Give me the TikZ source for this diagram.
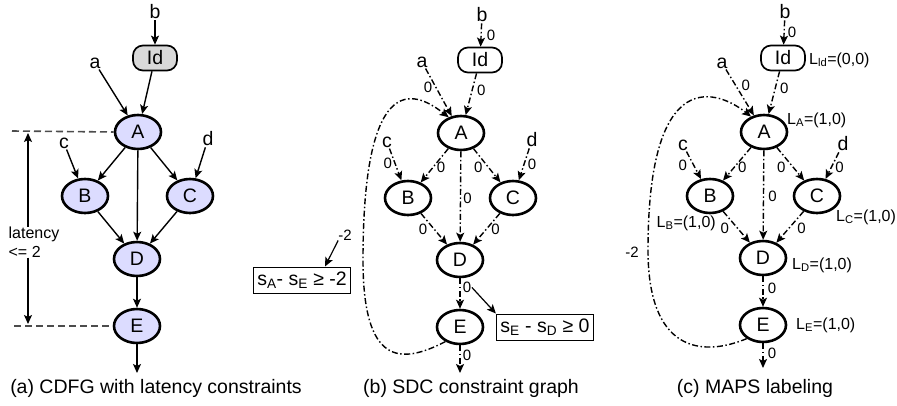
\documentclass[tikz,border=0pt]{standalone}
\usepackage{fontspec}
\setmainfont{Liberation Sans}
\usepackage{tikz}
\usetikzlibrary{positioning,shapes.geometric,arrows.meta}

\definecolor{opblue}{RGB}{220,220,255}
\definecolor{ldgray}{RGB}{217,217,217}
\newcommand{\bigtxt}{\fontsize{19.5}{21.5}\selectfont}
\newcommand{\midtxt}{\fontsize{16}{18}\selectfont}
\newcommand{\wtxt}{\fontsize{15}{17}\selectfont}
\newcommand{\sbs}[1]{\textsubscript{#1}}

\begin{document}
\begin{tikzpicture}[
            x=1pt, y=-1pt,
            op/.style={ellipse, draw=black, line width=2.6pt, minimum width=46pt, minimum height=34pt, inner sep=0pt, font=\bigtxt},
            opa/.style={op, fill=opblue},
            ldbox/.style={rectangle, rounded corners=10pt, draw=black, line width=1.7pt, minimum width=44pt, minimum height=25pt, inner sep=0pt, font=\bigtxt},
            var/.style={inner sep=1pt, font=\bigtxt},
            wt/.style={inner sep=0pt, font=\wtxt},
            lab/.style={inner sep=0pt, font=\midtxt},
            cons/.style={rectangle, draw=black, line width=1pt, inner sep=4pt, minimum height=26pt, font=\bigtxt},
            dep/.style={-{Stealth[length=9pt, width=8pt, inset=2pt]}, line width=1.4pt},
            sdc/.style={dep, dash pattern=on 6pt off 2.5pt on 1.5pt off 2.5pt},
            bound/.style={line width=1.6pt, draw=black!70, dash pattern=on 7pt off 4pt},
            captxt/.style={font=\bigtxt}
        ]
        \useasboundingbox (0,0) rectangle (897,405);

        %(a) CDFG
        \node[ldbox, fill=ldgray] (Id1) at (155,58)  {Id};
        \node[opa]                (A1)  at (138,132) {A};
        \node[opa]                (B1)  at (85,196)  {B};
        \node[opa]                (C1)  at (190,196) {C};
        \node[opa]                (D1)  at (137,259) {D};
        \node[opa]                (E1)  at (137,326) {E};
        \node[var] (b1) at (155,12)  {b};
        \node[var] (a1) at (95,63)   {a};
        \node[var] (c1) at (64,143)  {c};
        \node[var] (d1) at (208,139) {d};
        \coordinate (out1) at (137,373);

        \draw[dep] (b1) -- (Id1);
        \draw[dep] (a1) -- (A1);
        \draw[dep] (Id1) -- (A1);
        \draw[dep] (c1) -- (B1);
        \draw[dep] (A1) -- (B1);
        \draw[dep] (A1) -- (C1);
        \draw[dep] (d1) -- (C1);
        \draw[dep] (A1) -- (D1);
        \draw[dep] (B1) -- (D1);
        \draw[dep] (C1) -- (D1);
        \draw[dep] (D1) -- (E1);
        \draw[dep] (E1) -- (out1);

        %latency bound
        \coordinate (topL) at (12,131);
        \coordinate (botL) at (14,326);
        \draw[bound] (topL) -- (A1.west);
        \draw[bound] (botL) -- (E1.west);
        \node[lab, align=left] (lat) at (34,242) {latency\\[1pt]<= 2};
        \draw[dep, line width=1.2pt] (lat.north -| 28,0) -- (28,133);
        \draw[dep, line width=1.2pt] (lat.south -| 28,0) -- (28,324);

        \node[captxt] (capa) at (156,388) {(a) CDFG with latency constraints};

        %(b) SDC graph
        \node[ldbox] (Id2) at (480,60)  {Id};
        \node[op]    (A2)  at (461,133) {A};
        \node[op]    (B2)  at (408,198) {B};
        \node[op]    (C2)  at (513,198) {C};
        \node[op]    (D2)  at (460,260) {D};
        \node[op]    (E2)  at (460,327) {E};
        \node[var] (b2) at (482,15)  {b};
        \node[var] (a2) at (422,62)  {a};
        \node[var] (c2) at (387,142) {c};
        \node[var] (d2) at (532,140) {d};
        \coordinate (out2) at (460,373);

        \draw[sdc] (b2) -- (Id2)  node[wt, pos=.5, xshift=10pt] {0};
        \draw[sdc] (a2) -- (A2)   node[wt, pos=.4, xshift=-8pt] {0};
        \draw[sdc] (Id2) -- (A2)  node[wt, pos=.4, xshift=9pt] {0};
        \draw[sdc] (c2) -- (B2)   node[wt, pos=.45, xshift=-7pt] {0};
        \draw[sdc] (A2) -- (B2)   node[wt, pos=.55, xshift=8pt] {0};
        \draw[sdc] (A2) -- (C2)   node[wt, pos=.55, xshift=-10pt] {0};
        \draw[sdc] (d2) -- (C2)   node[wt, pos=.5, xshift=8pt] {0};
        \draw[sdc] (A2) -- (D2)   node[wt, pos=.52, xshift=7pt] {0};
        \draw[sdc] (B2) -- (D2)   node[wt, pos=.5, xshift=-11pt] {0};
        \draw[sdc] (C2) -- (D2)   node[wt, pos=.5, xshift=9pt] {0};
        \draw[sdc] (D2) -- (E2)   node[wt, pos=.3, xshift=7pt] (wDE) {0};
        \draw[sdc] (E2) -- (out2) node[wt, pos=.35, xshift=7pt] {0};
        \draw[sdc] (E2.225) .. controls (400,365) and (363,365) .. (363,260)
            .. controls (363,60) and (420,95) .. (A2.128);

        \node[wt] (m2) at (345,235) {-2};
        \node[cons] (consA) at (302,280) {s\sbs{A}- s\sbs{E} ≥ -2};
        \node[cons] (consE) at (545,327) {s\sbs{E} - s\sbs{D} ≥ 0};
        \draw[dep, line width=1.2pt] (m2.south west) -- (consA.north -| 325,0);
        \draw[dep, line width=1.2pt] (wDE.east) -- (consE.north west);

        \node[captxt] (capb) at (471,388) {(b) SDC constraint graph};

        %(c) MAPS labeling
        \node[ldbox] (Id3) at (783,58)  {Id};
        \node[op]    (A3)  at (764,132) {A};
        \node[op]    (B3)  at (710,196) {B};
        \node[op]    (C3)  at (817,196) {C};
        \node[op]    (D3)  at (763,258) {D};
        \node[op]    (E3)  at (763,325) {E};
        \node[var] (b3) at (785,12)  {b};
        \node[var] (a3) at (722,63)  {a};
        \node[var] (c3) at (683,145) {c};
        \node[var] (d3) at (843,144) {d};
        \coordinate (out3) at (763,368);

        \draw[sdc] (b3) -- (Id3)  node[wt, pos=.5, xshift=8pt] {0};
        \draw[sdc] (a3) -- (A3)   node[wt, pos=.35, xshift=10pt] {0};
        \draw[sdc] (Id3) -- (A3)  node[wt, pos=.4, xshift=9pt] {0};
        \draw[sdc] (c3) -- (B3)   node[wt, pos=.5, xshift=-11pt] {0};
        \draw[sdc] (A3) -- (B3)   node[wt, pos=.6, xshift=8pt] {0};
        \draw[sdc] (A3) -- (C3)   node[wt, pos=.6, xshift=-12pt] {0};
        \draw[sdc] (d3) -- (C3)   node[wt, pos=.55, xshift=8pt] {0};
        \draw[sdc] (A3) -- (D3)   node[wt, pos=.52, xshift=9pt] {0};
        \draw[sdc] (B3) -- (D3)   node[wt, pos=.55, xshift=-13pt] {0};
        \draw[sdc] (C3) -- (D3)   node[wt, pos=.55, xshift=13pt] {0};
        \draw[sdc] (D3) -- (E3)   node[wt, pos=.4, xshift=9pt] {0};
        \draw[sdc] (E3) -- (out3) node[wt, pos=.4, xshift=9pt] {0};
        \draw[sdc] (E3.220) .. controls (700,358) and (648,350) .. (648,250)
            .. controls (648,60) and (720,92) .. (A3.130);
        \node[wt] (m3) at (632,252) {-2};

        \node[lab, anchor=west] (LId) at (809,60)  {L\sbs{ld}=(0,0)};
        \node[lab, anchor=west] (LA)  at (787,120) {L\sbs{A}=(1,0)};
        \node[lab, anchor=east] (LB)  at (716,223) {L\sbs{B}=(1,0)};
        \node[lab, anchor=west] (LC)  at (836,217) {L\sbs{C}=(1,0)};
        \node[lab, anchor=west] (LD)  at (792,265) {L\sbs{D}=(1,0)};
        \node[lab, anchor=west] (LE)  at (796,325) {L\sbs{E}=(1,0)};

        \node[captxt] (capc) at (755,388) {(c) MAPS labeling};

        \end{tikzpicture}
\end{document}
